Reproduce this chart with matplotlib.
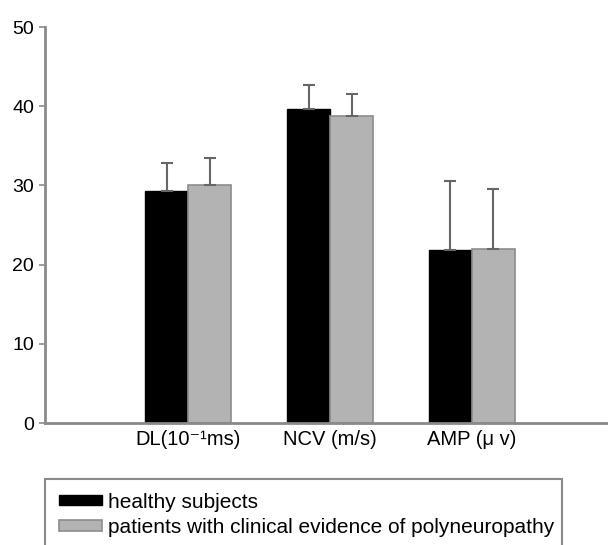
import matplotlib
matplotlib.use("Agg")
import matplotlib.pyplot as plt
import numpy as np

plt.rcParams["font.family"] = ["Liberation Sans", "DejaVu Sans"]

# Data
categories = ["DL(10⁻¹ms)", "NCV (m/s)", "AMP (μ v)"]
healthy_mean = [29.3, 39.7, 21.9]
healthy_sd = [3.5, 3.0, 8.7]
patients_mean = [30.1, 38.7, 22.0]
patients_sd = [3.4, 2.8, 7.6]
series_labels = ["healthy subjects", "patients with clinical evidence of polyneuropathy"]

fig = plt.figure(figsize=(6.08, 5.45), dpi=100)
ax = fig.add_axes([45 / 608, 1 - 423 / 545, 1 - 45 / 608, (423 - 27) / 545])

x = np.arange(1, len(categories) + 1)
width = 0.303
axis_grey = "#8a8a8a"
err_kw = dict(ecolor="#666666", elinewidth=1.5, capsize=4, capthick=1.5)

ax.bar(x - width / 2, healthy_mean, width, color="black", edgecolor="black",
       yerr=[np.zeros(3), healthy_sd], error_kw=err_kw, label=series_labels[0])
ax.bar(x + width / 2, patients_mean, width, color="#b3b3b3", edgecolor="#8c8c8c",
       linewidth=1.2, yerr=[np.zeros(3), patients_sd], error_kw=err_kw,
       label=series_labels[1])

ax.set_xlim(-0.01, 3.96)
ax.set_ylim(0, 50)
ax.set_yticks([0, 10, 20, 30, 40, 50])
ax.set_xticks(x)
ax.set_xticklabels(categories, fontsize=14.5)
ax.tick_params(axis="x", length=0, pad=5)
ax.tick_params(axis="y", length=4, width=1.2, color=axis_grey, labelsize=14, pad=4)

for side in ["top", "right"]:
    ax.spines[side].set_visible(False)
for side in ["left", "bottom"]:
    ax.spines[side].set_color(axis_grey)
    ax.spines[side].set_linewidth(2)

leg = fig.legend(loc="upper left", bbox_to_anchor=(45 / 608, 0, (562 - 45) / 608, 1 - 479 / 545),
                 mode="expand", fontsize=15, frameon=True, fancybox=False, framealpha=1,
                 handlelength=2.1, handleheight=0.4, handletextpad=0.25,
                 labelspacing=0.3, borderpad=0.65, borderaxespad=0)
leg.get_frame().set_edgecolor("#8a8a8a")
leg.get_frame().set_linewidth(1.5)

fig.savefig("out.png", dpi=100)
